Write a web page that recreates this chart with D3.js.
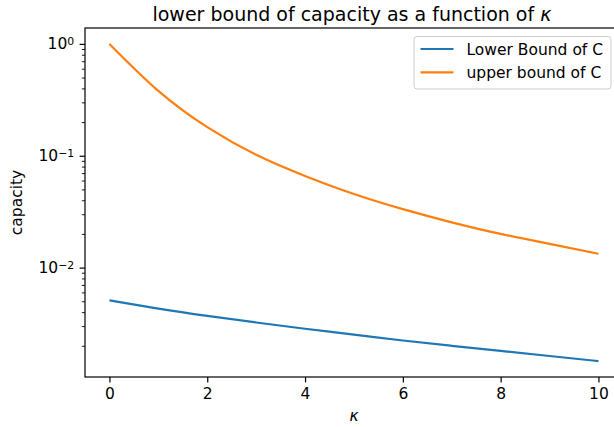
<!DOCTYPE html>
<html>
<head>
<meta charset="utf-8">
<script src="https://cdn.jsdelivr.net/npm/d3@7"></script>
<style>
  body { margin: 0; background: #fff; }
  svg { display: block; font-family: "DejaVu Sans", sans-serif; }
  .tick line { stroke: #000; }
  .tick text { fill: #000; }
</style>
</head>
<body>
<svg id="chart"></svg>
<script>
// values
var kappa = [0, 1, 2, 3, 4, 5, 6, 7, 8, 9, 10];
var lowerC = [0.0051, 0.0043, 0.0037, 0.00323, 0.00284, 0.00252, 0.00223, 0.0020, 0.0018, 0.00162, 0.00146];
var upperC = [1.0, 0.38, 0.18, 0.102, 0.066, 0.0455, 0.0333, 0.0254, 0.0200, 0.0163, 0.0133];

var seriesNames = ["Lower Bound of C", "upper bound of C"];
var seriesColors = ["#1f77b4", "#ff7f0e"];

var xTicks = [0, 2, 4, 6, 8, 10];
var yMajor = [1, 0.1, 0.01];
var yExp = ["0", "\u22121", "\u22122"];
var yMinor = [0.002, 0.003, 0.004, 0.005, 0.006, 0.007, 0.008, 0.009,
              0.02, 0.03, 0.04, 0.05, 0.06, 0.07, 0.08, 0.09,
              0.2, 0.3, 0.4, 0.5, 0.6, 0.7, 0.8, 0.9];

var W = 614, H = 427;
var margin = {top: 28, left: 85, bottom: 50};
var plotW = 537.9,
    plotH = H - margin.top - margin.bottom;
var fs = 15.5;

var svg = d3.select("#chart").attr("width", W).attr("height", H);

var x = d3.scaleLinear().domain([-0.5, 10.5]).range([0, plotW]);
var y = d3.scaleLog().domain([Math.pow(10, -2.978), Math.pow(10, 0.142)]).range([plotH, 0]);

var g = svg.append("g")
    .attr("transform", "translate(" + margin.left + "," + margin.top + ")");

// lines
var line = d3.line()
    .x(function(d) { return x(d[0]); })
    .y(function(d) { return y(d[1]); })
    .curve(d3.curveNatural);

[lowerC, upperC].forEach(function(vals, i) {
  g.append("path")
    .datum(kappa.map(function(k, j) { return [k, vals[j]]; }))
    .attr("fill", "none")
    .attr("stroke", seriesColors[i])
    .attr("stroke-width", 2.2)
    .attr("d", line);
});

// x axis
var xAxis = g.append("g")
    .attr("transform", "translate(0," + plotH + ")")
    .call(d3.axisBottom(x).tickValues(xTicks).tickSize(5.4).tickPadding(5.4));
xAxis.select(".domain").remove();
xAxis.selectAll(".tick line").attr("stroke-width", 1.2);
xAxis.selectAll(".tick text").attr("font-size", fs).attr("font-family", "DejaVu Sans");

// y axis, minor ticks
var yMin = g.append("g")
    .call(d3.axisLeft(y).tickValues(yMinor).tickSize(3.1).tickFormat(function() { return ""; }));
yMin.select(".domain").remove();
yMin.selectAll(".tick line").attr("stroke-width", 0.9);

// y axis, major ticks
var yAx = g.append("g")
    .call(d3.axisLeft(y).tickValues(yMajor).tickSize(5.4).tickPadding(5.4)
      .tickFormat(function() { return ""; }));
yAx.select(".domain").remove();
yAx.selectAll(".tick line").attr("stroke-width", 1.2);
yAx.selectAll(".tick text")
    .attr("font-size", fs)
    .attr("font-family", "DejaVu Sans")
    .each(function(d, i) {
      var t = d3.select(this);
      t.text("10");
      t.append("tspan")
        .attr("dy", "-0.42em")
        .attr("font-size", "0.7em")
        .text(yExp[i]);
    });

// frame
g.append("rect")
    .attr("width", plotW).attr("height", plotH)
    .attr("fill", "none").attr("stroke", "#000").attr("stroke-width", 1.2);

// title and axis labels
svg.append("text")
    .attr("x", margin.left + plotW / 2 - 2)
    .attr("y", 21)
    .attr("text-anchor", "middle")
    .attr("font-size", 19)
    .html("lower bound of capacity as a function of <tspan font-style='italic'>\u03ba</tspan>");

svg.append("text")
    .attr("x", margin.left + plotW / 2)
    .attr("y", 421)
    .attr("text-anchor", "middle")
    .attr("font-size", fs)
    .attr("font-style", "italic")
    .text("\u03ba");

svg.append("text")
    .attr("transform", "translate(22," + (margin.top + plotH / 2) + ") rotate(-90)")
    .attr("text-anchor", "middle")
    .attr("font-size", fs)
    .text("capacity");

// legend
var leg = svg.append("g").attr("transform", "translate(414,36.5)");
leg.append("rect")
    .attr("width", 197).attr("height", 52.5)
    .attr("rx", 3)
    .attr("fill", "#fff").attr("fill-opacity", 0.8)
    .attr("stroke", "#cccccc").attr("stroke-width", 1);

seriesNames.forEach(function(name, i) {
  var row = leg.append("g").attr("transform", "translate(0," + (12.5 + i * 23.3) + ")");
  row.append("line")
    .attr("x1", 6.5).attr("x2", 39.5)
    .attr("stroke", seriesColors[i]).attr("stroke-width", 2.2);
  row.append("text")
    .attr("x", 52.5)
    .attr("dy", "0.36em")
    .attr("font-size", fs)
    .text(name);
});
</script>
</body>
</html>
